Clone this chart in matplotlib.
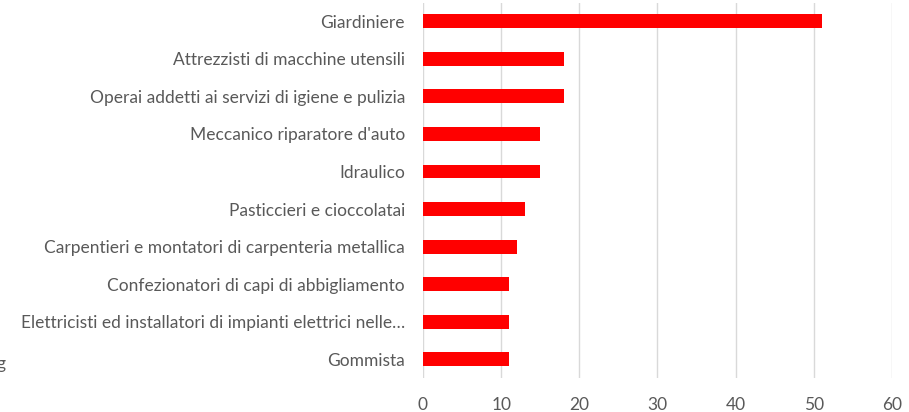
import matplotlib
matplotlib.use("Agg")
import matplotlib.pyplot as plt

categories = [
    "Giardiniere",
    "Attrezzisti di macchine utensili",
    "Operai addetti ai servizi di igiene e pulizia",
    "Meccanico riparatore d'auto",
    "Idraulico",
    "Pasticcieri e cioccolatai",
    "Carpentieri e montatori di carpenteria metallica",
    "Confezionatori di capi di abbigliamento",
    "Elettricisti ed installatori di impianti elettrici nelle…",
    "Gommista",
]
values = [51, 18, 18, 15, 15, 13, 12, 11, 11, 11]
xticks = [0, 10, 20, 30, 40, 50, 60]

plt.rcParams['font.family'] = ['Lato', 'DejaVu Sans']
textc = "#595959"

fig = plt.figure(figsize=(9.09, 4.12), dpi=100)
ax = fig.add_axes([0.4653, 1 - 378 / 412, 0.516, 375.5 / 412])
y = list(range(len(categories)))
ax.barh(y, values, height=0.37, color="#FF0000", zorder=3)
ax.set_ylim(len(categories) - 0.5, -0.5)
ax.set_xlim(0, 60)
ax.set_xticks(xticks)
ax.set_yticks(y)
ax.set_yticklabels(categories)
ax.grid(axis="x", color="#D9D9D9", linewidth=1, zorder=0)
for s in ax.spines.values():
    s.set_visible(False)
ax.tick_params(axis="both", length=0, colors=textc, labelsize=12.5)
ax.tick_params(axis="y", pad=13)
ax.tick_params(axis="x", pad=14)
fig.text(-0.004, 0.105, "g", color=textc, fontsize=12.5)
fig.savefig("out.png", dpi=100)
